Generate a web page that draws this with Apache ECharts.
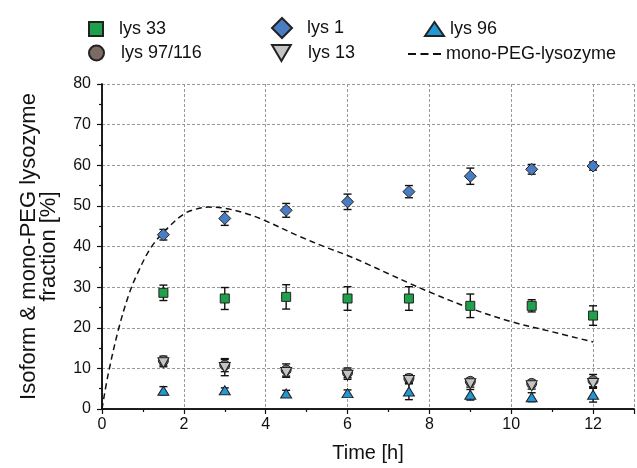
<!DOCTYPE html>
<html>
<head>
<meta charset="utf-8">
<script src="https://cdn.jsdelivr.net/npm/echarts@6/dist/echarts.min.js"></script>
<style>
html,body{margin:0;padding:0;background:#fff;}
#chart{width:637px;height:468px;}
</style>
</head>
<body>
<div id="chart"></div>
<script>
// ---- data ----
const time = [1.5, 3, 4.5, 6, 7.5, 9, 10.5, 12];
const lys33 = [28.6, 27.2, 27.6, 27.2, 27.2, 25.4, 25.4, 23.0];
const lys33Err = [1.9, 2.7, 3.0, 2.9, 2.9, 2.9, 1.5, 2.4];
const lys1 = [42.9, 46.9, 48.9, 51.0, 53.5, 57.3, 59.0, 59.8];
const lys1Err = [1.3, 1.7, 1.7, 1.9, 1.5, 2.0, 1.2, 1.0];
const lys96 = [4.5, 4.6, 3.8, 3.9, 4.3, 3.5, 2.9, 3.5];
const lys96Err = [1.0, 0.6, 0.8, 0.8, 2.0, 1.3, 1.1, 1.8];
const lys97 = [11.9, 10.8, 9.6, 8.9, 7.5, 6.8, 6.3, 7.0];
const lys97Err = [1.1, 1.6, 1.5, 1.2, 1.0, 0.8, 0.8, 1.5];
const lys13 = [11.4, 10.2, 9.0, 8.3, 7.0, 6.2, 5.7, 6.3];
const lys13Err = [1.0, 2.0, 1.2, 1.0, 0.8, 0.8, 0.8, 1.2];
const curveT = [0, 0.15, 0.4, 0.65, 0.85, 1.2, 1.6, 2, 2.3, 2.6, 3, 3.5, 4, 4.8, 5.5, 6, 6.5, 7, 7.5, 8, 9, 10, 11, 12];
const curveY = [0, 8.5, 19.5, 28, 33, 39.8, 44.5, 48, 49.2, 49.7, 49.4, 48.2, 46.3, 42.6, 39.7, 37.8, 35.6, 33.3, 31, 28.8, 24.8, 21.5, 19, 16.5];
const yTicks = [0, 10, 20, 30, 40, 50, 60, 70, 80];
const xTicks = [0, 2, 4, 6, 8, 10, 12];

const FONT = 'Liberation Sans, Arial, sans-serif';
const pts = (xs, ys) => xs.map((x, i) => [x, ys[i]]);
const errRows = (xs, ys, es) => xs.map((x, i) => [x, ys[i] - es[i], ys[i] + es[i]]);

function errSeries(rows) {
  return {
    type: 'custom',
    silent: true,
    z: 2,
    encode: { x: 0, y: [1, 2] },
    data: rows,
    renderItem: function (params, api) {
      const x = api.value(0), lo = api.value(1), hi = api.value(2);
      const a = api.coord([x, lo]), b = api.coord([x, hi]);
      const w = 4;
      const st = { stroke: '#111', lineWidth: 1.4 };
      return {
        type: 'group',
        children: [
          { type: 'line', shape: { x1: a[0], y1: a[1], x2: b[0], y2: b[1] }, style: st },
          { type: 'line', shape: { x1: a[0] - w, y1: a[1], x2: a[0] + w, y2: a[1] }, style: st },
          { type: 'line', shape: { x1: b[0] - w, y1: b[1], x2: b[0] + w, y2: b[1] }, style: st }
        ]
      };
    }
  };
}

function scatter(name, data, symbol, size, color, rotate) {
  return {
    name: name, type: 'scatter', data: data, symbol: symbol, symbolSize: size,
    symbolRotate: rotate || 0, z: 3,
    itemStyle: { color: color, borderColor: '#222', borderWidth: 1, opacity: 1 }
  };
}

function leg(item, left, top, w, h, pad) {
  return {
    data: [item], left: left, top: top, itemWidth: w, itemHeight: h,
    orient: 'horizontal', padding: 0, selectedMode: false,
    textStyle: { fontFamily: FONT, fontSize: 18, color: '#111', padding: [0, 0, 0, pad] }
  };
}

const axisCommon = {
  axisLine: { show: true, lineStyle: { color: '#111', width: 1.5 } },
  splitLine: { show: false },
  minorSplitLine: { show: false }
};

const chart = echarts.init(document.getElementById('chart'), null, { renderer: 'canvas' });
chart.setOption({
  animation: false,
  backgroundColor: '#fff',
  grid: { left: 102, right: 0, top: 84, bottom: 53 },
  legend: [
    leg({ name: 'lys 33', icon: 'rect' }, 88, 20, 14, 14, 11),
    leg({ name: 'lys 97/116', icon: 'circle' }, 88, 44, 15, 15, 12),
    leg({ name: 'lys 1', icon: 'diamond' }, 271, 17, 20, 20, 10),
    leg({ name: 'lys 13', icon: 'path://M0,0 L20,0 L10,17 Z' }, 271, 44, 19, 16, 12),
    leg({ name: 'lys 96', icon: 'triangle' }, 424, 20, 19, 14, 1),
    leg({ name: 'mono-PEG-lysozyme', icon: 'path://M0,0h8v2h-8zM12.5,0h8v2h-8zM25,0h8v2h-8z',
          itemStyle: { color: '#111', borderWidth: 0 }, lineStyle: { width: 0, opacity: 0 } },
        408, 45, 33, 2, 0)
  ],
  xAxis: [
    Object.assign({}, axisCommon, {
      type: 'value', min: 0, max: 13, interval: 2, position: 'bottom',
      name: 'Time [h]', nameLocation: 'middle', nameGap: 34,
      nameTextStyle: { fontFamily: FONT, fontSize: 20, color: '#111' },
      axisTick: { show: true, inside: false, length: 5, lineStyle: { color: '#111', width: 1.2 } },
      minorTick: { show: true, splitNumber: 2, length: 3, lineStyle: { color: '#111', width: 1.2 } },
      axisLabel: { fontFamily: FONT, fontSize: 16, color: '#111', margin: 8,
        formatter: v => (xTicks.indexOf(v) >= 0 ? String(v) : '') },
      splitLine: { show: true, lineStyle: { color: '#9a9a9a', type: [3, 2], width: 1 } }
    }),
    Object.assign({}, axisCommon, {
      type: 'value', min: 0, max: 13, interval: 2, position: 'top',
      axisTick: { show: true, inside: true, length: 4, lineStyle: { color: '#111' } },
      minorTick: { show: true, splitNumber: 2, length: 3, lineStyle: { color: '#111' } },
      axisLabel: { show: false }
    })
  ],
  yAxis: [
    Object.assign({}, axisCommon, {
      type: 'value', min: 0, max: 80, interval: 10, position: 'left',
      name: 'Isoform & mono-PEG lysozyme\nfraction [%]', nameLocation: 'middle', nameGap: 43,
      nameTextStyle: { fontFamily: FONT, fontSize: 22, color: '#111', lineHeight: 20, align: 'center' },
      axisTick: { show: true, inside: false, length: 5, lineStyle: { color: '#111', width: 1.2 } },
      minorTick: { show: true, splitNumber: 2, length: 3, lineStyle: { color: '#111', width: 1.2 } },
      axisLabel: { fontFamily: FONT, fontSize: 16, color: '#111', margin: 11,
        formatter: v => (yTicks.indexOf(v) >= 0 ? String(v) : '') },
      splitLine: { show: true, lineStyle: { color: '#9a9a9a', type: [3, 2], width: 1 } }
    }),
    Object.assign({}, axisCommon, {
      type: 'value', min: 0, max: 80, interval: 10, position: 'right',
      axisTick: { show: true, inside: true, length: 4, lineStyle: { color: '#111' } },
      minorTick: { show: true, splitNumber: 2, length: 3, lineStyle: { color: '#111' } },
      axisLabel: { show: false }
    })
  ],
  series: [
    {
      name: 'mono-PEG-lysozyme', type: 'line', data: pts(curveT, curveY), smooth: 0.35,
      symbol: 'none', z: 1, silent: true,
      lineStyle: { color: '#111', width: 1.5, type: [6, 4] },
      itemStyle: { color: '#111' }
    },
    errSeries(errRows(time, lys97, lys97Err)),
    errSeries(errRows(time, lys13, lys13Err)),
    errSeries(errRows(time, lys96, lys96Err)),
    errSeries(errRows(time, lys33, lys33Err)),
    errSeries(errRows(time, lys1, lys1Err)),
    scatter('lys 97/116', pts(time, lys97), 'circle', 10, '#7c6a65'),
    scatter('lys 13', pts(time, lys13), 'triangle', [11, 10], '#c4c4c4', 180),
    scatter('lys 96', pts(time, lys96), 'triangle', [11, 9], '#2299d6'),
    scatter('lys 33', pts(time, lys33), 'rect', 9, '#1fa04b'),
    scatter('lys 1', pts(time, lys1), 'diamond', [12, 12], '#4a7cc3')
  ]
});
</script>
</body>
</html>
